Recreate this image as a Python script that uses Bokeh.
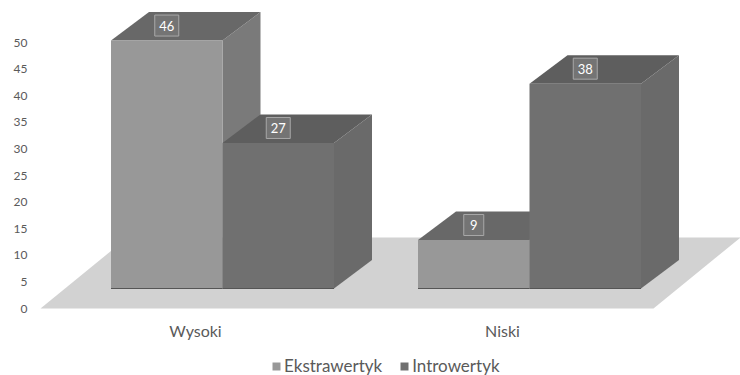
from bokeh.embed import file_html
from bokeh.models import ColumnDataSource, FixedTicker, Legend, LegendItem, LinearAxis, Range1d
from bokeh.plotting import figure
from bokeh.resources import INLINE
from bokeh.core.properties import value

# Survey results
categories = ["Wysoki", "Niski"]
series_names = ["Ekstrawertyk", "Introwertyk"]
ekstrawertyk = [46, 9]
introwertyk = [27, 38]
axis_ticks = [0, 5, 10, 15, 20, 25, 30, 35, 40, 45, 50]

FONT = "Lato"
TEXT = "#5a5a5a"

# Page geometry of the pseudo-3D chart (pixels)
W, H = 740, 375
LEFT = 33
AXIS_ZERO, AXIS_PX = 308, 5.32   # value axis: pixel row of 0, pixels per unit
BAR_ZERO, BAR_PX = 288, 5.39     # bars sit further back on the floor
GROUP_PX = 307                   # distance between category groups
ORIGIN_PX = 222                  # boundary between the two bars of the first group
BAR_W = 111.5 / GROUP_PX
DEPTH_X = 38 / GROUP_PX
DEPTH_Y = 28.5 / BAR_PX
LABEL_RISE = 15 / BAR_PX
CAT_SHIFT = -27 / GROUP_PX
CAT_ROW = 330

FACE = {
    "Ekstrawertyk": ("#989898", "#7a7a7a", "#686868"),
    "Introwertyk": ("#707070", "#6a6a6a", "#5e5e5e"),
}

p = figure(
    frame_width=W - LEFT, frame_height=H, output_backend="svg", toolbar_location=None,
    x_range=Range1d((LEFT - ORIGIN_PX) / GROUP_PX, (W - ORIGIN_PX) / GROUP_PX),
    y_range=Range1d(-(H - AXIS_ZERO) / AXIS_PX, AXIS_ZERO / AXIS_PX),
    x_axis_location=None, y_axis_location=None,
    min_border_left=LEFT, min_border_right=0, min_border_top=0, min_border_bottom=0,
    outline_line_color=None,
)
p.grid.visible = False
p.extra_y_ranges = {"bars": Range1d(-(H - BAR_ZERO) / BAR_PX, BAR_ZERO / BAR_PX)}

# Value axis without line or ticks
y_axis = LinearAxis(ticker=FixedTicker(ticks=axis_ticks))
y_axis.axis_line_color = None
y_axis.major_tick_line_color = None
y_axis.major_tick_out = 0
y_axis.minor_tick_line_color = None
y_axis.minor_tick_out = 0
y_axis.major_label_standoff = 6
y_axis.major_label_text_font = FONT
y_axis.major_label_text_font_size = "12px"
y_axis.major_label_text_color = TEXT
p.add_layout(y_axis, "left")

# Floor plane
to_x = lambda px: (px - ORIGIN_PX) / GROUP_PX
to_y = lambda py: (BAR_ZERO - py) / BAR_PX
p.patch(
    [to_x(40), to_x(653), to_x(740), to_x(127)],
    [to_y(308), to_y(308), to_y(237), to_y(237)],
    fill_color="#d2d2d2", line_color=None, y_range_name="bars",
)

legend_renderers = {}
label_x, label_y, label_t = [], [], []
for g in range(len(categories)):
    for s, (name, vals) in enumerate(zip(series_names, [ekstrawertyk, introwertyk])):
        v = vals[g]
        x0 = g + (s - 1) * BAR_W
        x1 = x0 + BAR_W
        front, side, top = FACE[name]
        # right side, top face, then front face so each bar hides the previous one
        p.patch([x1, x1 + DEPTH_X, x1 + DEPTH_X, x1],
                [0, DEPTH_Y, v + DEPTH_Y, v],
                fill_color=side, line_color=None, y_range_name="bars")
        p.patch([x0, x1, x1 + DEPTH_X, x0 + DEPTH_X],
                [v, v, v + DEPTH_Y, v + DEPTH_Y],
                fill_color=top, line_color=None, y_range_name="bars")
        r = p.patch([x0, x1, x1, x0], [0, 0, v, v],
                    fill_color=front, line_color=None, y_range_name="bars")
        p.line([x0, x1], [0, 0], line_color="#555555", line_width=1.2, y_range_name="bars")
        legend_renderers.setdefault(name, r)
        label_x.append((x0 + x1) / 2)
        label_y.append(v + LABEL_RISE)
        label_t.append(str(v))

# Value labels on the top faces
src = ColumnDataSource(dict(x=label_x, y=label_y, t=label_t,
                            w=[24 if len(t) > 1 else 20 for t in label_t]))
p.rect("x", "y", width="w", height=21, width_units="screen", height_units="screen",
       source=src, fill_color="#747474", line_color="#a8a8a8", line_width=1, y_range_name="bars")
p.text("x", "y", text="t", source=src, text_color="#ffffff", text_align="center",
       text_baseline="middle", text_font=value(FONT), text_font_size="13px",
       y_range_name="bars")

# Category names centred under the floor
cat_src = ColumnDataSource(dict(
    x=[i + CAT_SHIFT for i in range(len(categories))],
    y=[to_y(CAT_ROW)] * len(categories),
    t=categories,
))
p.text("x", "y", text="t", source=cat_src, text_color=TEXT, text_align="center",
       text_baseline="middle", text_font=value(FONT), text_font_size="16px",
       y_range_name="bars")

legend = Legend(
    items=[LegendItem(label=n, renderers=[legend_renderers[n]]) for n in series_names],
    orientation="horizontal", location=(238, -1), background_fill_alpha=0,
    border_line_color=None, label_text_font=FONT, label_text_font_size="17px",
    label_text_color=TEXT, glyph_width=10, glyph_height=10, label_standoff=3,
    spacing=17, padding=0, margin=0,
)
p.add_layout(legend, "center")

open("out.html", "w").write(file_html(p, INLINE))
